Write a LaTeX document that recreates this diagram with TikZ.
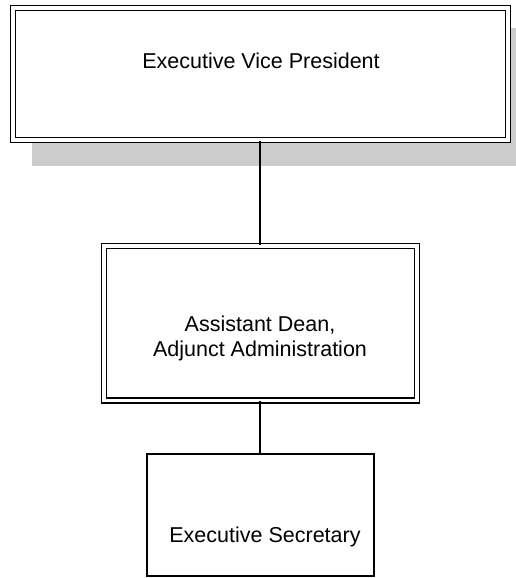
\documentclass[tikz,border=0pt]{standalone}
\usepackage{fontspec}
\setmainfont{Liberation Sans}
\definecolor{shadowgray}{RGB}{204,204,204}
\tikzset{
  dblbox/.style={draw, double=white, double distance=3.4pt, line width=1.5pt, fill=white, inner sep=0pt},
  sglbox/.style={draw, line width=1.4pt, fill=white, inner sep=0pt},
  lbl/.style={inner sep=0pt, font=\fontsize{21.5pt}{25pt}\selectfont, align=center, anchor=base},
  conn/.style={line width=1.3pt}
}
\begin{document}
\begin{tikzpicture}[x=1pt,y=-1pt]
\useasboundingbox (0,0) rectangle (516,578);
\fill[shadowgray] (32,28) rectangle (516,166);
\node[dblbox, minimum width=495pt, minimum height=132pt] (evp) at (260.4,74) {};
\node[dblbox, minimum width=313pt, minimum height=154.5pt] (ad) at (260.5,323.2) {};
\node[sglbox, minimum width=227pt, minimum height=122pt] (es) at (260.5,515) {};
\node[lbl] (evpt) at (261,68.3) {Executive Vice President};
\node[lbl] (adt) at (260,356.7) {Assistant Dean,\\Adjunct Administration};
\node[lbl] (est) at (265,542.3) {Executive Secretary};
\draw[conn] (evp.south -| 260,0) -- (ad.north -| 260,0);
\draw[conn] (ad.south -| 260,0) -- (es.north -| 260,0);
\end{tikzpicture}
\end{document}
